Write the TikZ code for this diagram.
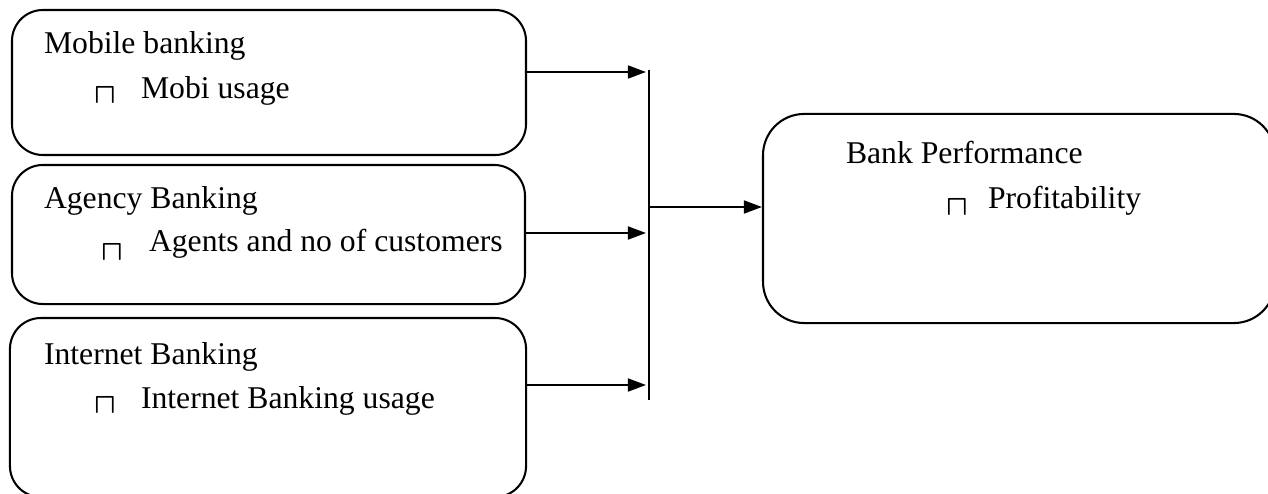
\documentclass[tikz,border=0pt]{standalone}
\usepackage{fontspec}
\setmainfont{Liberation Serif}
\usepackage{amssymb}
\usepackage{amsmath}
\usepackage{tikz}
\usetikzlibrary{arrows.meta, positioning, calc}
\tikzstyle{factor} = [rectangle, rounded corners = 12pt, draw = black, line width = 0.8pt]
\tikzstyle{label} = [anchor = base west, inner sep = 0pt]
\tikzstyle{bul} = [anchor = south west, inner sep = 0pt]
\newcommand{\sqbul}{{\fontsize{11}{11}\selectfont$\boldsymbol{\sqcap}$}}

\begin{document}
\begin{tikzpicture}[x=0.3883pt,y=-0.3883pt,>={Triangle[length=7pt,width=5pt]},
  font=\fontsize{12.3}{14}\selectfont, line width=0.8pt]

% Frame of the picture
\useasboundingbox (0,0) rectangle (1268,493);
\clip (0,0) rectangle (1268,493);

% The three factor boxes
\node[factor, minimum width=199.6pt, minimum height=56.3pt] (mob) at (269,82.5) {};
\node[factor, minimum width=199.2pt, minimum height=54.0pt] (agency) at (268.5,234.5) {};
\node[factor, minimum width=200.4pt, minimum height=69.5pt] (inet) at (268,407.5) {};

% Outcome box
\node[factor, rounded corners=16pt, minimum width=198.8pt, minimum height=81.2pt] (perf) at (1019,218.5) {};

% Texts
\node[label] (mobtitle) at (43,54) {Mobile banking};
\node[bul] (mobbul) at (93,105) {\sqbul};
\node[label] (mobitem) at (140,98) {Mobi usage};

\node[label] (agtitle) at (43,208) {Agency Banking};
\node[bul] (agbul) at (100,262) {\sqbul};
\node[label] (agitem) at (148,251) {Agents and no of customers};

\node[label] (intitle) at (43,364) {Internet Banking};
\node[bul] (inbul) at (93,415) {\sqbul};
\node[label] (initem) at (140,408) {Internet Banking usage};

\node[label] (perftitle) at (845,163) {Bank Performance};
\node[bul] (perfbul) at (945,217) {\sqbul};
\node[label] (perfitem) at (987,208) {Profitability};

% Collecting bar
\coordinate (bartop) at (649,70);
\coordinate (barbot) at (649,400);
\draw (bartop) -- (barbot);

% Arrows into the bar
\coordinate (j1) at (646,72);
\coordinate (j2) at (646,233);
\coordinate (j3) at (646,385);
\draw[->] (mob.east |- j1) -- (j1);
\draw[->] (agency.east |- j2) -- (j2);
\draw[->] (inet.east |- j3) -- (j3);

% Arrow to the outcome
\coordinate (jout) at (649,207);
\draw[->] (jout) -- (perf.west |- jout);

\end{tikzpicture}
\end{document}
